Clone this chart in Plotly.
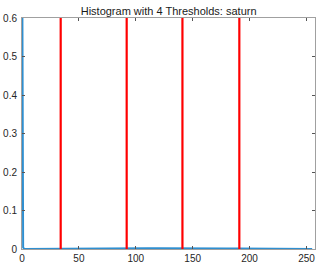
import plotly.graph_objects as go

# normalised histogram of the image (sparse points)
hist_levels = [0, 1, 2, 40, 55, 62, 70, 80, 90, 100, 110, 120, 130, 140, 150, 160, 170, 180, 190, 200, 210, 220, 228, 240, 255]
hist_values = [0.93, 0.004, 0.0, 0.0, 0.0, 0.0005, 0.001, 0.0012, 0.0015, 0.0015, 0.0018, 0.002, 0.0022, 0.0025, 0.0022, 0.002, 0.0018, 0.0015, 0.0012, 0.001, 0.0008, 0.0005, 0.0, 0.0, 0.0]
thresholds = [34, 92, 141, 191]
title_text = "Histogram with 4 Thresholds: saturn"

fig = go.Figure()
fig.add_trace(go.Scatter(x=hist_levels, y=hist_values, mode="lines",
                         line=dict(color="#2f8fd0", width=2), showlegend=False))
for t in thresholds:
    fig.add_trace(go.Scatter(x=[t, t], y=[0, 0.6], mode="lines",
                             line=dict(color="#ff0000", width=2.2), showlegend=False))

axis_common = dict(showgrid=False, zeroline=False, showline=True, linecolor="#a0a0a0",
                   linewidth=1, mirror="ticks", ticks="inside", ticklen=3, automargin=False,
                   tickcolor="#555555", tickfont=dict(size=10, color="#262626"))
fig.update_layout(
    width=320, height=266,
    margin=dict(l=22, r=5, t=18, b=17),
    paper_bgcolor="white", plot_bgcolor="white",
    font=dict(family="Liberation Sans, Arial, sans-serif", color="#262626"),
    title=dict(text=title_text, x=0.527, xanchor="center", y=0.958, yanchor="middle",
               font=dict(size=11, color="#1a1a1a")),
    xaxis=dict(range=[0, 257.5], tickvals=[0, 50, 100, 150, 200, 250],
               ticklabelstandoff=0, layer="above traces", **axis_common),
    yaxis=dict(range=[0, 0.6], tickvals=[0, 0.1, 0.2, 0.3, 0.4, 0.5, 0.6],
               ticktext=["0", "0.1", "0.2", "0.3", "0.4", "0.5", "0.6"],
               ticklabelstandoff=2, **axis_common),
)
# drop the page's default body margin so the figure sits at the window's corner
fig.write_html("out.html", config={"displayModeBar": False},
               post_script="document.body.style.margin='0';")
